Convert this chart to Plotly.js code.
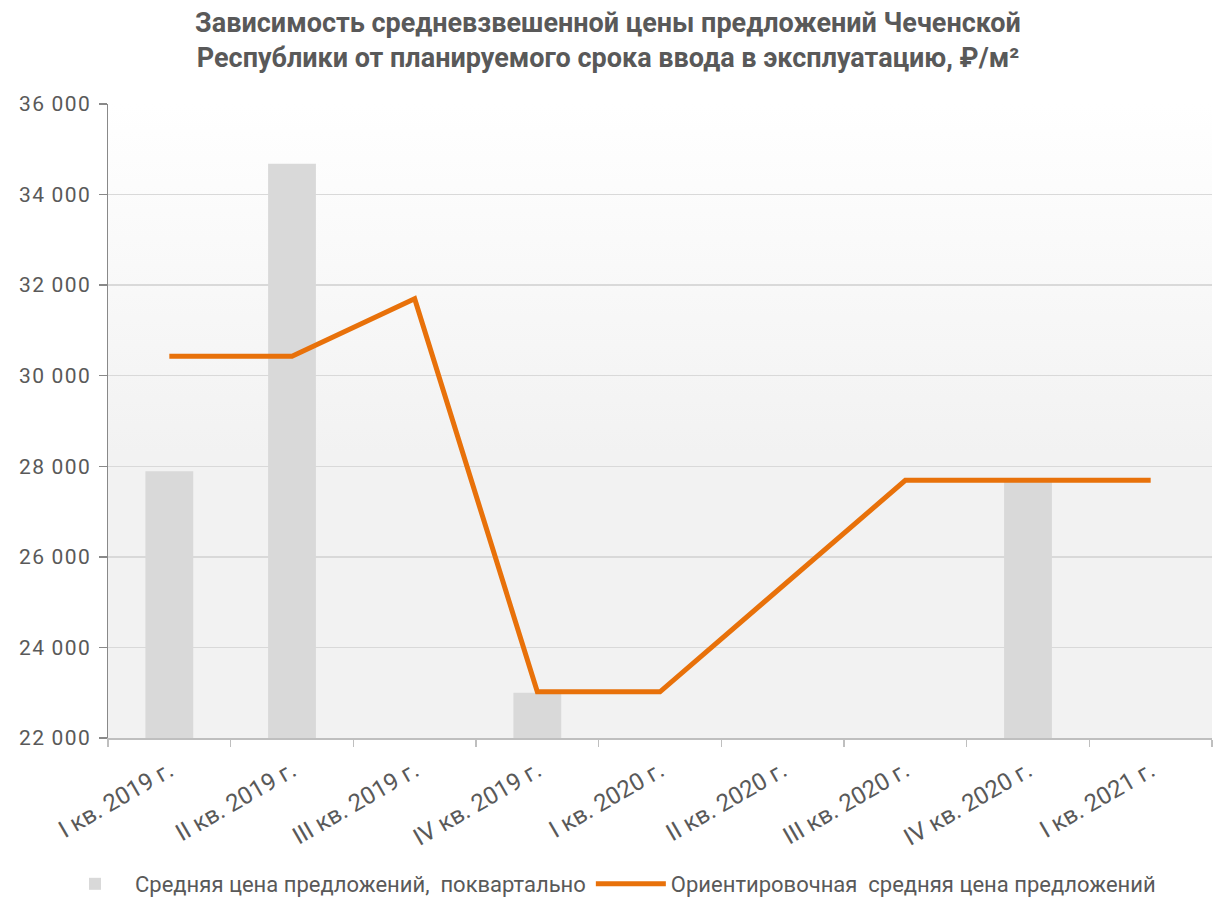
<!DOCTYPE html>
<html>
<head>
<meta charset="utf-8">
<script src="https://cdn.plot.ly/plotly-3.0.1.min.js"></script>
<style>html,body{margin:0;padding:0;background:#fff;}#chart{width:1216px;height:905px;}.ytick text{letter-spacing:1.5px;}</style>
</head>
<body>
<div id="chart"></div>
<script>
const categories = ["I кв. 2019 г.", "II кв. 2019 г.", "III кв. 2019 г.", "IV кв. 2019 г.", "I кв. 2020 г.", "II кв. 2020 г.", "III кв. 2020 г.", "IV кв. 2020 г.", "I кв. 2021 г."];
const quarterlyPrice = [27890, 34680, null, 23000, null, null, null, 27690, null];
const estimatedPrice = [30430, 30430, 31700, 23020, 23020, null, 27690, 27690, 27690];
const yTickVals = [22000, 24000, 26000, 28000, 30000, 32000, 34000, 36000];
const yTickText = ["22\u2009000", "24\u2009000", "26\u2009000", "28\u2009000", "30\u2009000", "32\u2009000", "34\u2009000", "36\u2009000"];

const gradSvg = '<svg xmlns="http://www.w3.org/2000/svg" width="100" height="100" preserveAspectRatio="none"><defs><linearGradient id="g" x1="0" y1="0" x2="0" y2="1"><stop offset="0" stop-color="#ffffff"/><stop offset="0.55" stop-color="#f2f2f2"/><stop offset="1" stop-color="#f2f2f2"/></linearGradient></defs><rect width="100" height="100" fill="url(#g)"/></svg>';

const traces = [
  {
    type: 'bar',
    name: 'Средняя цена предложений,  поквартально',
    x: categories,
    y: quarterlyPrice,
    width: 0.39,
    marker: {color: '#d9d9d9'},
    hoverinfo: 'x+y'
  },
  {
    type: 'scatter',
    mode: 'lines',
    name: 'Ориентировочная  средняя цена предложений',
    x: categories,
    y: estimatedPrice,
    connectgaps: true,
    line: {color: '#e8710a', width: 5}
  }
];

const layout = {
  width: 1216,
  height: 905,
  margin: {l: 108, r: 4, t: 104, b: 167},
  paper_bgcolor: '#ffffff',
  plot_bgcolor: 'rgba(0,0,0,0)',
  font: {family: 'Roboto, sans-serif', color: '#595959'},
  title: {
    text: '<b>Зависимость средневзвешенной цены предложений Чеченской<br>Республики от планируемого срока ввода в эксплуатацию, ₽/м²</b>',
    font: {family: 'Roboto, sans-serif', size: 27, color: '#595959'},
    x: 0.5, xanchor: 'center', xref: 'container',
    yref: 'container', y: 0.965, yanchor: 'middle'
  },
  images: [{
    source: 'data:image/svg+xml;charset=utf-8,' + encodeURIComponent(gradSvg),
    xref: 'paper', yref: 'paper', x: 0, y: 1, sizex: 1, sizey: 1,
    xanchor: 'left', yanchor: 'top', sizing: 'stretch', layer: 'below'
  }],
  xaxis: {
    type: 'category',
    tickangle: -30,
    tickson: 'boundaries',
    ticks: 'outside',
    ticklen: 7,
    tickwidth: 1.5,
    tickcolor: '#bfbfbf',
    showline: true,
    linecolor: '#bfbfbf',
    linewidth: 1.5,
    showgrid: false,
    tickfont: {size: 24, color: '#595959'},
    ticklabelstandoff: 8,
    fixedrange: true
  },
  yaxis: {
    range: [22000, 36000],
    tickvals: yTickVals,
    ticktext: yTickText,
    ticks: 'outside',
    ticklen: 8,
    tickwidth: 1.5,
    tickcolor: '#898989',
    showline: true,
    linecolor: '#898989',
    linewidth: 1.5,
    gridcolor: '#d9d9d9',
    gridwidth: 1.5,
    zeroline: false,
    tickfont: {size: 21, color: '#595959'},
    ticklabelstandoff: 3,
    fixedrange: true
  },
  bargap: 0.6,
  showlegend: true,
  legend: {
    orientation: 'h',
    xref: 'container',
    x: 0.5, xanchor: 'center',
    yref: 'container',
    y: -0.01, yanchor: 'bottom',
    font: {size: 22, color: '#595959'},
    itemwidth: 70,
    traceorder: 'normal'
  }
};

Plotly.newPlot('chart', traces, layout, {displayModeBar: false, staticPlot: true});
</script>
</body>
</html>
